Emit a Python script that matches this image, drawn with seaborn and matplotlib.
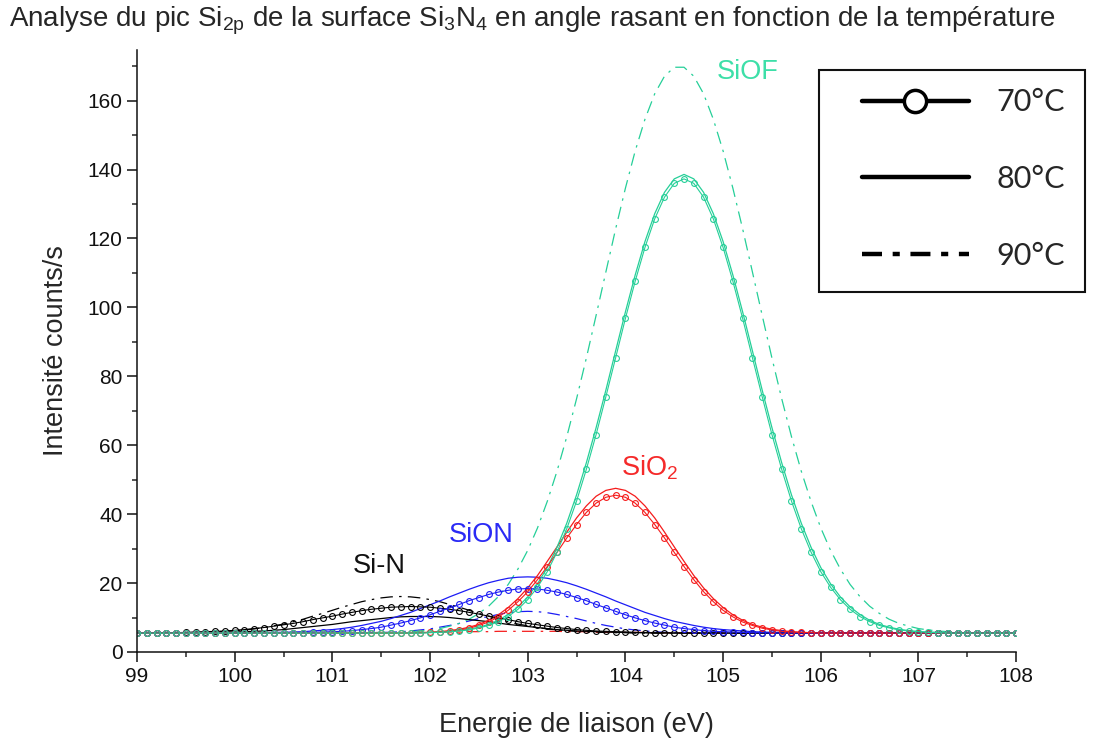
import numpy as np
import pandas as pd
import matplotlib
matplotlib.use("Agg")
import matplotlib.pyplot as plt
import seaborn as sns
from matplotlib.lines import Line2D
from matplotlib.patches import Rectangle
from matplotlib.ticker import MultipleLocator

# energie de liaison (eV), pas de 0.1 eV
energie = np.round(np.linspace(99.0, 108.0, 91), 1)

# --- intensites (counts/s) ---
sin_70 = [
    5.5, 5.5, 5.6, 5.6, 5.6, 5.7, 5.8, 5.9, 6.0, 6.1,
    6.3, 6.5, 6.8, 7.1, 7.5, 7.9, 8.3, 8.8, 9.4, 9.9,
    10.4, 11.0, 11.5, 12.0, 12.4, 12.7, 13.0, 13.1, 13.2, 13.1,
    13.0, 12.7, 12.4, 12.0, 11.5, 11.0, 10.4, 9.9, 9.4, 8.8,
    8.3, 7.9, 7.5, 7.1, 6.8, 6.5, 6.3, 6.1, 6.0, 5.9,
    5.8, 5.7, 5.6, 5.6, 5.6, 5.5, 5.5, 5.5, 5.5, 5.5,
    5.5, 5.5, 5.5, 5.5, 5.5, 5.5, 5.5, 5.5, 5.5, 5.5,
    5.5, 5.5, 5.5, 5.5, 5.5, 5.5, 5.5, 5.5, 5.5, 5.5,
    5.5, 5.5, 5.5, 5.5, 5.5, 5.5, 5.5, 5.5, 5.5, 5.5,
    5.5]
sin_80 = [
    5.5, 5.5, 5.5, 5.5, 5.5, 5.5, 5.6, 5.6, 5.7, 5.7,
    5.8, 5.9, 6.0, 6.1, 6.3, 6.5, 6.8, 7.1, 7.4, 7.7,
    8.0, 8.4, 8.8, 9.1, 9.4, 9.7, 10.0, 10.2, 10.3, 10.3,
    10.3, 10.2, 10.0, 9.7, 9.4, 9.1, 8.8, 8.4, 8.0, 7.7,
    7.4, 7.1, 6.8, 6.5, 6.3, 6.1, 6.0, 5.9, 5.8, 5.7,
    5.7, 5.6, 5.6, 5.5, 5.5, 5.5, 5.5, 5.5, 5.5, 5.5,
    5.5, 5.5, 5.5, 5.5, 5.5, 5.5, 5.5, 5.5, 5.5, 5.5,
    5.5, 5.5, 5.5, 5.5, 5.5, 5.5, 5.5, 5.5, 5.5, 5.5,
    5.5, 5.5, 5.5, 5.5, 5.5, 5.5, 5.5, 5.5, 5.5, 5.5,
    5.5]
sin_90 = [
    5.5, 5.5, 5.5, 5.5, 5.6, 5.6, 5.7, 5.7, 5.8, 6.0,
    6.2, 6.4, 6.7, 7.1, 7.6, 8.1, 8.8, 9.5, 10.4, 11.2,
    12.1, 13.0, 13.8, 14.6, 15.2, 15.7, 16.0, 16.1, 16.0, 15.7,
    15.2, 14.6, 13.8, 13.0, 12.1, 11.2, 10.4, 9.5, 8.8, 8.1,
    7.6, 7.1, 6.7, 6.4, 6.2, 6.0, 5.8, 5.7, 5.7, 5.6,
    5.6, 5.5, 5.5, 5.5, 5.5, 5.5, 5.5, 5.5, 5.5, 5.5,
    5.5, 5.5, 5.5, 5.5, 5.5, 5.5, 5.5, 5.5, 5.5, 5.5,
    5.5, 5.5, 5.5, 5.5, 5.5, 5.5, 5.5, 5.5, 5.5, 5.5,
    5.5, 5.5, 5.5, 5.5, 5.5, 5.5, 5.5, 5.5, 5.5, 5.5,
    5.5]

sion_70 = [
    5.5, 5.5, 5.5, 5.5, 5.5, 5.5, 5.5, 5.5, 5.5, 5.5,
    5.5, 5.5, 5.5, 5.5, 5.5, 5.5, 5.6, 5.6, 5.7, 5.8,
    5.9, 6.0, 6.2, 6.5, 6.8, 7.2, 7.8, 8.4, 9.1, 9.9,
    10.8, 11.8, 12.8, 13.8, 14.9, 15.8, 16.7, 17.4, 17.9, 18.3,
    18.4, 18.3, 17.9, 17.4, 16.7, 15.8, 14.9, 13.8, 12.8, 11.8,
    10.8, 9.9, 9.1, 8.4, 7.8, 7.2, 6.8, 6.5, 6.2, 6.0,
    5.9, 5.8, 5.7, 5.6, 5.6, 5.5, 5.5, 5.5, 5.5, 5.5,
    5.5, 5.5, 5.5, 5.5, 5.5, 5.5, 5.5, 5.5, 5.5, 5.5,
    5.5, 5.5, 5.5, 5.5, 5.5, 5.5, 5.5, 5.5, 5.5, 5.5,
    5.5]
sion_80 = [
    5.5, 5.5, 5.5, 5.5, 5.5, 5.5, 5.5, 5.5, 5.5, 5.5,
    5.5, 5.5, 5.6, 5.6, 5.7, 5.7, 5.8, 5.9, 6.1, 6.3,
    6.5, 6.8, 7.2, 7.7, 8.3, 8.9, 9.7, 10.6, 11.5, 12.6,
    13.7, 14.8, 16.0, 17.1, 18.2, 19.2, 20.1, 20.8, 21.4, 21.7,
    21.8, 21.7, 21.4, 20.8, 20.1, 19.2, 18.2, 17.1, 16.0, 14.8,
    13.7, 12.6, 11.5, 10.6, 9.7, 8.9, 8.3, 7.7, 7.2, 6.8,
    6.5, 6.3, 6.1, 5.9, 5.8, 5.7, 5.7, 5.6, 5.6, 5.5,
    5.5, 5.5, 5.5, 5.5, 5.5, 5.5, 5.5, 5.5, 5.5, 5.5,
    5.5, 5.5, 5.5, 5.5, 5.5, 5.5, 5.5, 5.5, 5.5, 5.5,
    5.5]
sion_90 = [
    5.5, 5.5, 5.5, 5.5, 5.5, 5.5, 5.5, 5.5, 5.5, 5.5,
    5.5, 5.5, 5.5, 5.5, 5.5, 5.5, 5.5, 5.5, 5.5, 5.5,
    5.5, 5.5, 5.5, 5.5, 5.6, 5.7, 5.7, 5.9, 6.1, 6.4,
    6.7, 7.2, 7.7, 8.3, 9.0, 9.7, 10.3, 10.9, 11.4, 11.7,
    11.8, 11.7, 11.4, 10.9, 10.3, 9.7, 9.0, 8.3, 7.7, 7.2,
    6.7, 6.4, 6.1, 5.9, 5.7, 5.7, 5.6, 5.5, 5.5, 5.5,
    5.5, 5.5, 5.5, 5.5, 5.5, 5.5, 5.5, 5.5, 5.5, 5.5,
    5.5, 5.5, 5.5, 5.5, 5.5, 5.5, 5.5, 5.5, 5.5, 5.5,
    5.5, 5.5, 5.5, 5.5, 5.5, 5.5, 5.5, 5.5, 5.5, 5.5,
    5.5]

sio2_70 = [
    5.5, 5.5, 5.5, 5.5, 5.5, 5.5, 5.5, 5.5, 5.5, 5.5,
    5.5, 5.5, 5.5, 5.5, 5.5, 5.5, 5.5, 5.5, 5.5, 5.5,
    5.5, 5.5, 5.5, 5.5, 5.5, 5.5, 5.5, 5.5, 5.5, 5.6,
    5.7, 5.8, 6.0, 6.4, 6.9, 7.7, 8.7, 10.2, 12.1, 14.6,
    17.5, 21.0, 24.8, 28.9, 33.1, 37.0, 40.5, 43.2, 44.9, 45.5,
    44.9, 43.2, 40.5, 37.0, 33.1, 28.9, 24.8, 21.0, 17.5, 14.6,
    12.1, 10.2, 8.7, 7.7, 6.9, 6.4, 6.0, 5.8, 5.7, 5.6,
    5.5, 5.5, 5.5, 5.5, 5.5, 5.5, 5.5, 5.5, 5.5, 5.5,
    5.5, 5.5, 5.5, 5.5, 5.5, 5.5, 5.5, 5.5, 5.5, 5.5,
    5.5]
sio2_80 = [
    5.5, 5.5, 5.5, 5.5, 5.5, 5.5, 5.5, 5.5, 5.5, 5.5,
    5.5, 5.5, 5.5, 5.5, 5.5, 5.5, 5.5, 5.5, 5.5, 5.5,
    5.5, 5.5, 5.5, 5.5, 5.5, 5.5, 5.5, 5.5, 5.5, 5.6,
    5.7, 5.9, 6.2, 6.6, 7.2, 8.0, 9.2, 10.8, 12.9, 15.5,
    18.6, 22.2, 26.3, 30.5, 34.8, 38.9, 42.4, 45.2, 46.9, 47.5,
    46.9, 45.2, 42.4, 38.9, 34.8, 30.5, 26.3, 22.2, 18.6, 15.5,
    12.9, 10.8, 9.2, 8.0, 7.2, 6.6, 6.2, 5.9, 5.7, 5.6,
    5.5, 5.5, 5.5, 5.5, 5.5, 5.5, 5.5, 5.5, 5.5, 5.5,
    5.5, 5.5, 5.5, 5.5, 5.5, 5.5, 5.5, 5.5, 5.5, 5.5,
    5.5]
sio2_90 = [
    5.5, 5.5, 5.5, 5.5, 5.5, 5.5, 5.5, 5.5, 5.5, 5.5,
    5.5, 5.5, 5.5, 5.5, 5.5, 5.5, 5.5, 5.5, 5.5, 5.5,
    5.5, 5.5, 5.5, 5.5, 5.6, 5.6, 5.6, 5.6, 5.7, 5.7,
    5.7, 5.8, 5.8, 5.8, 5.9, 5.9, 5.9, 6.0, 6.0, 6.0,
    6.0, 6.0, 6.0, 6.0, 5.9, 5.9, 5.9, 5.8, 5.8, 5.8,
    5.7, 5.7, 5.7, 5.6, 5.6, 5.6, 5.6, 5.5, 5.5, 5.5,
    5.5, 5.5, 5.5, 5.5, 5.5, 5.5, 5.5, 5.5, 5.5, 5.5,
    5.5, 5.5, 5.5, 5.5, 5.5, 5.5, 5.5, 5.5, 5.5, 5.5,
    5.5, 5.5, 5.5, 5.5, 5.5, 5.5, 5.5, 5.5, 5.5, 5.5,
    5.5]

siof_70 = [
    5.5, 5.5, 5.5, 5.5, 5.5, 5.5, 5.5, 5.5, 5.5, 5.5,
    5.5, 5.5, 5.5, 5.5, 5.5, 5.5, 5.5, 5.5, 5.5, 5.5,
    5.5, 5.5, 5.5, 5.5, 5.5, 5.5, 5.5, 5.5, 5.5, 5.5,
    5.6, 5.7, 5.9, 6.1, 6.4, 7.0, 7.7, 8.8, 10.3, 12.4,
    15.2, 18.8, 23.3, 29.0, 35.8, 43.8, 53.0, 63.1, 74.1, 85.4,
    96.8, 107.6, 117.4, 125.7, 132.0, 136.0, 137.3, 136.0, 132.0, 125.7,
    117.4, 107.6, 96.8, 85.4, 74.1, 63.1, 53.0, 43.8, 35.8, 29.0,
    23.3, 18.8, 15.2, 12.4, 10.3, 8.8, 7.7, 7.0, 6.4, 6.1,
    5.9, 5.7, 5.6, 5.5, 5.5, 5.5, 5.5, 5.5, 5.5, 5.5,
    5.5]
siof_80 = [
    5.5, 5.5, 5.5, 5.5, 5.5, 5.5, 5.5, 5.5, 5.5, 5.5,
    5.5, 5.5, 5.5, 5.5, 5.5, 5.5, 5.5, 5.5, 5.5, 5.5,
    5.5, 5.5, 5.5, 5.5, 5.5, 5.5, 5.5, 5.5, 5.5, 5.6,
    5.7, 5.8, 5.9, 6.2, 6.6, 7.2, 8.0, 9.2, 10.9, 13.1,
    16.0, 19.8, 24.5, 30.4, 37.4, 45.6, 54.9, 65.1, 76.0, 87.4,
    98.7, 109.4, 119.1, 127.2, 133.4, 137.3, 138.6, 137.3, 133.4, 127.2,
    119.1, 109.4, 98.7, 87.4, 76.0, 65.1, 54.9, 45.6, 37.4, 30.4,
    24.5, 19.8, 16.0, 13.1, 10.9, 9.2, 8.0, 7.2, 6.6, 6.2,
    5.9, 5.8, 5.7, 5.6, 5.5, 5.5, 5.5, 5.5, 5.5, 5.5,
    5.5]
siof_90 = [
    5.5, 5.5, 5.5, 5.5, 5.5, 5.5, 5.5, 5.5, 5.5, 5.5,
    5.5, 5.5, 5.5, 5.5, 5.5, 5.5, 5.5, 5.5, 5.5, 5.5,
    5.5, 5.5, 5.5, 5.5, 5.5, 5.5, 5.6, 5.7, 5.9, 6.1,
    6.4, 6.8, 7.5, 8.3, 9.5, 11.2, 13.3, 16.1, 19.6, 24.1,
    29.5, 36.0, 43.7, 52.5, 62.5, 73.5, 85.3, 97.7, 110.3, 122.8,
    134.6, 145.4, 154.6, 162.0, 167.1, 169.7, 169.7, 167.1, 162.0, 154.6,
    145.4, 134.6, 122.8, 110.3, 97.7, 85.3, 73.5, 62.5, 52.5, 43.7,
    36.0, 29.5, 24.1, 19.6, 16.1, 13.3, 11.2, 9.5, 8.3, 7.5,
    6.8, 6.4, 6.1, 5.9, 5.7, 5.6, 5.5, 5.5, 5.5, 5.5,
    5.5]

composantes = ["Si-N", "SiON", "SiO2", "SiOF"]
temperatures = ["70°C", "80°C", "90°C"]
courbes = {
    ("Si-N", "70°C"): sin_70, ("Si-N", "80°C"): sin_80, ("Si-N", "90°C"): sin_90,
    ("SiON", "70°C"): sion_70, ("SiON", "80°C"): sion_80, ("SiON", "90°C"): sion_90,
    ("SiO2", "70°C"): sio2_70, ("SiO2", "80°C"): sio2_80, ("SiO2", "90°C"): sio2_90,
    ("SiOF", "70°C"): siof_70, ("SiOF", "80°C"): siof_80, ("SiOF", "90°C"): siof_90,
}

frames = []
for (comp, temp), vals in courbes.items():
    frames.append(pd.DataFrame({"energie": energie, "intensite": vals,
                                "composante": comp, "temperature": temp}))
df = pd.concat(frames, ignore_index=True)

couleurs = {"Si-N": "#000000", "SiON": "#1c1cf5", "SiO2": "#f51c1c", "SiOF": "#25cf98"}
styles = {
    "70°C": dict(marker="o", markersize=4.2, markerfacecolor="none", markeredgewidth=0.8, linewidth=0.8),
    "80°C": dict(linewidth=0.9),
    "90°C": dict(linewidth=0.9, linestyle=(0, (10, 5, 2, 5))),
}

sns.set_style("ticks")
plt.rcParams["font.family"] = ["Liberation Sans", "DejaVu Sans"]
plt.rcParams["mathtext.default"] = "regular"

fig, ax = plt.subplots(figsize=(10.95, 7.42), dpi=100)
fig.subplots_adjust(left=0.1251, right=0.928, bottom=0.1213, top=0.9326)

for temp in ["90°C", "80°C", "70°C"]:
    for comp in composantes:
        sub = df[(df["composante"] == comp) & (df["temperature"] == temp)]
        kw = dict(styles[temp])
        if "marker" in kw:
            kw["markeredgecolor"] = couleurs[comp]
        sns.lineplot(data=sub, x="energie", y="intensite", color=couleurs[comp],
                     ax=ax, legend=False, **kw)

ax.set_xlim(99, 108)
ax.set_ylim(0, 174.7)
ax.xaxis.set_major_locator(MultipleLocator(1))
ax.xaxis.set_minor_locator(MultipleLocator(0.5))
ax.yaxis.set_major_locator(MultipleLocator(20))
ax.yaxis.set_minor_locator(MultipleLocator(10))
ax.tick_params(which="major", direction="out", length=7, width=1.1, labelsize=15, colors="#111111")
ax.tick_params(which="minor", direction="out", length=3.5, width=1.1)
sns.despine(ax=ax)
for s in ["left", "bottom"]:
    ax.spines[s].set_linewidth(1.1)
    ax.spines[s].set_color("#111111")

ax.set_xlabel("Energie de liaison (eV)", fontsize=19.5, labelpad=19)
ax.set_ylabel("Intensité counts/s", fontsize=19.5, labelpad=13)

# etiquettes des composantes
ax.text(105.25, 168.4, "SiOF", color="#3ddfa8", fontsize=19.5, ha="center", va="center")
ax.text(104.25, 53.4, "SiO$_2$", color="#f52a2a", fontsize=19.5, ha="center", va="center")
ax.text(102.52, 34.0, "SiON", color="#2a2af5", fontsize=19.5, ha="center", va="center")
ax.text(101.48, 25.0, "Si-N", color="#111111", fontsize=19.5, ha="center", va="center")

fig.text(0.008, 0.972,
         "Analyse du pic Si$_{2p}$ de la surface Si$_3$N$_4$ en angle rasant en fonction de la température",
         fontsize=20, ha="left", va="center")

# legende des temperatures dans un cadre a droite
fig.patches.append(Rectangle((0.748, 0.6065), 0.2429, 0.2992, transform=fig.transFigure,
                             fill=False, edgecolor="#111111", linewidth=1.5))
handles = [
    Line2D([], [], color="black", linewidth=3.2, marker="o", markersize=16,
           markerfacecolor="white", markeredgecolor="black", markeredgewidth=2.5),
    Line2D([], [], color="black", linewidth=3.2),
    Line2D([], [], color="black", linewidth=3.2, linestyle=(0, (4.5, 2.4, 1.6, 2.4))),
]
leg = fig.legend(handles, temperatures, loc="upper left", bbox_to_anchor=(0.787, 0.881),
                 bbox_transform=fig.transFigure, frameon=False, borderpad=0, borderaxespad=0,
                 handlelength=3.5, handletextpad=0.9, labelspacing=1.6,
                 prop={"family": ["Lato", "DejaVu Sans"], "size": 22})

fig.savefig("out.png", dpi=100)
